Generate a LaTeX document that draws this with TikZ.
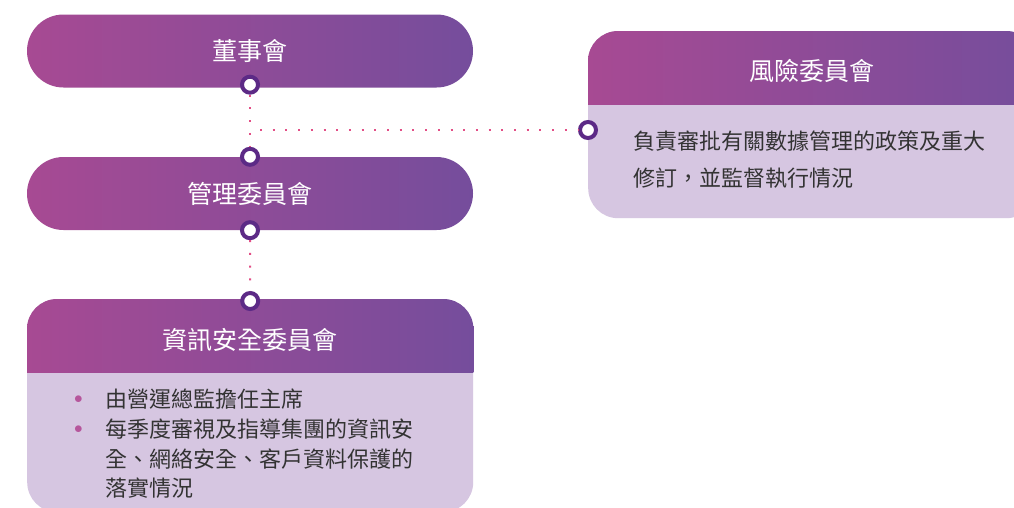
\documentclass[tikz,border=0pt]{standalone}
\usepackage{fontspec}
\setmainfont{Noto Sans CJK TC}
\usepackage{tikz}
\usetikzlibrary{positioning}
\definecolor{headleft}{RGB}{167,74,147}
\definecolor{headright}{RGB}{117,77,156}
\definecolor{cardfill}{RGB}{214,198,225}
\definecolor{ringpurple}{RGB}{92,42,134}
\definecolor{dotpink}{RGB}{226,78,134}
\definecolor{bulletpink}{RGB}{182,86,156}
\definecolor{bodytext}{RGB}{51,51,51}
\tikzset{
    pill/.style={rectangle, rounded corners=36.5pt, minimum width=446pt, minimum height=73pt,
        left color=headleft, right color=headright, text=white, font=\fontsize{25}{30}\selectfont},
    card/.style={rectangle, rounded corners=30pt, fill=cardfill, inner sep=0pt},
    headtitle/.style={text=white, font=\fontsize{25}{30}\selectfont},
    ring/.style={circle, draw=ringpurple, line width=4pt, fill=white, minimum size=16pt, inner sep=0pt},
    dots/.style={dotpink, line width=2pt, dash pattern=on 2pt off 10.7pt},
    bodytxt/.style={text=bodytext, align=left, anchor=north west, inner sep=0pt}
}
\newcommand{\pinkitem}{\makebox[33pt][l]{\hspace{2pt}\textcolor{bulletpink}{\raisebox{4pt}{\fontsize{18}{18}\selectfont$\bullet$}}}}

\begin{document}
\begin{tikzpicture}[x=1pt,y=-1pt]
    \useasboundingbox (0,0) rectangle (1014,507);
    \clip (0,0) rectangle (1014,507);
    \fill[white] (0,0) rectangle (1014,507);

    \node[pill] (board) at (250,51) {董事會};
    \node[pill] (mgmt) at (250,193.5) {管理委員會};

    \node[card, minimum width=448pt, minimum height=187pt, anchor=north west] (riskcard) at (588,31) {};
    \begin{scope}
        \clip (riskcard.north west) rectangle ([yshift=-73pt]riskcard.north east);
        \shade[left color=headleft, right color=headright, rounded corners=30pt]
            (riskcard.north west) rectangle (riskcard.south east);
    \end{scope}
    \node[headtitle] (risktitle) at ([yshift=-40pt]riskcard.north) {風險委員會};
    \node[bodytxt, font=\fontsize{22}{37}\selectfont] (risktext) at (633,131)
        {負責審批有關數據管理的政策及重大\\修訂，並監督執行情況};

    \node[card, minimum width=446pt, minimum height=213pt, anchor=north west] (iscard) at (27,299) {};
    \begin{scope}
        \clip (iscard.north west) rectangle ([yshift=-73pt]iscard.north east);
        \shade[left color=headleft, right color=headright, rounded corners=30pt]
            (iscard.north west) rectangle (iscard.south east);
    \end{scope}
    \node[headtitle] (istitle) at ([yshift=-41pt]iscard.north) {資訊安全委員會};
    \node[bodytxt, font=\fontsize{22}{29.7}\selectfont] (istext) at (72,389)
        {\pinkitem 由營運總監擔任主席\\
         \pinkitem 每季度審視及指導集團的資訊安\\
         \hspace*{33pt}全、網絡安全、客戶資料保護的\\
         \hspace*{33pt}落實情況};

    \node[ring, yshift=3pt] (boardport) at (board.south) {};
    \node[ring] (mgmtin) at (mgmt.north) {};
    \node[ring] (mgmtout) at (mgmt.south) {};
    \node[ring, yshift=-2pt] (isin) at (iscard.north) {};
    \coordinate (split) at (250,130);
    \node[ring] (riskin) at (split -| riskcard.west) {};

    \draw[dots] (boardport) -- (mgmtin);
    \draw[dots] (mgmtout) -- (isin);
    \draw[dots] ([xshift=10pt]split) -- (riskin);
\end{tikzpicture}
\end{document}
